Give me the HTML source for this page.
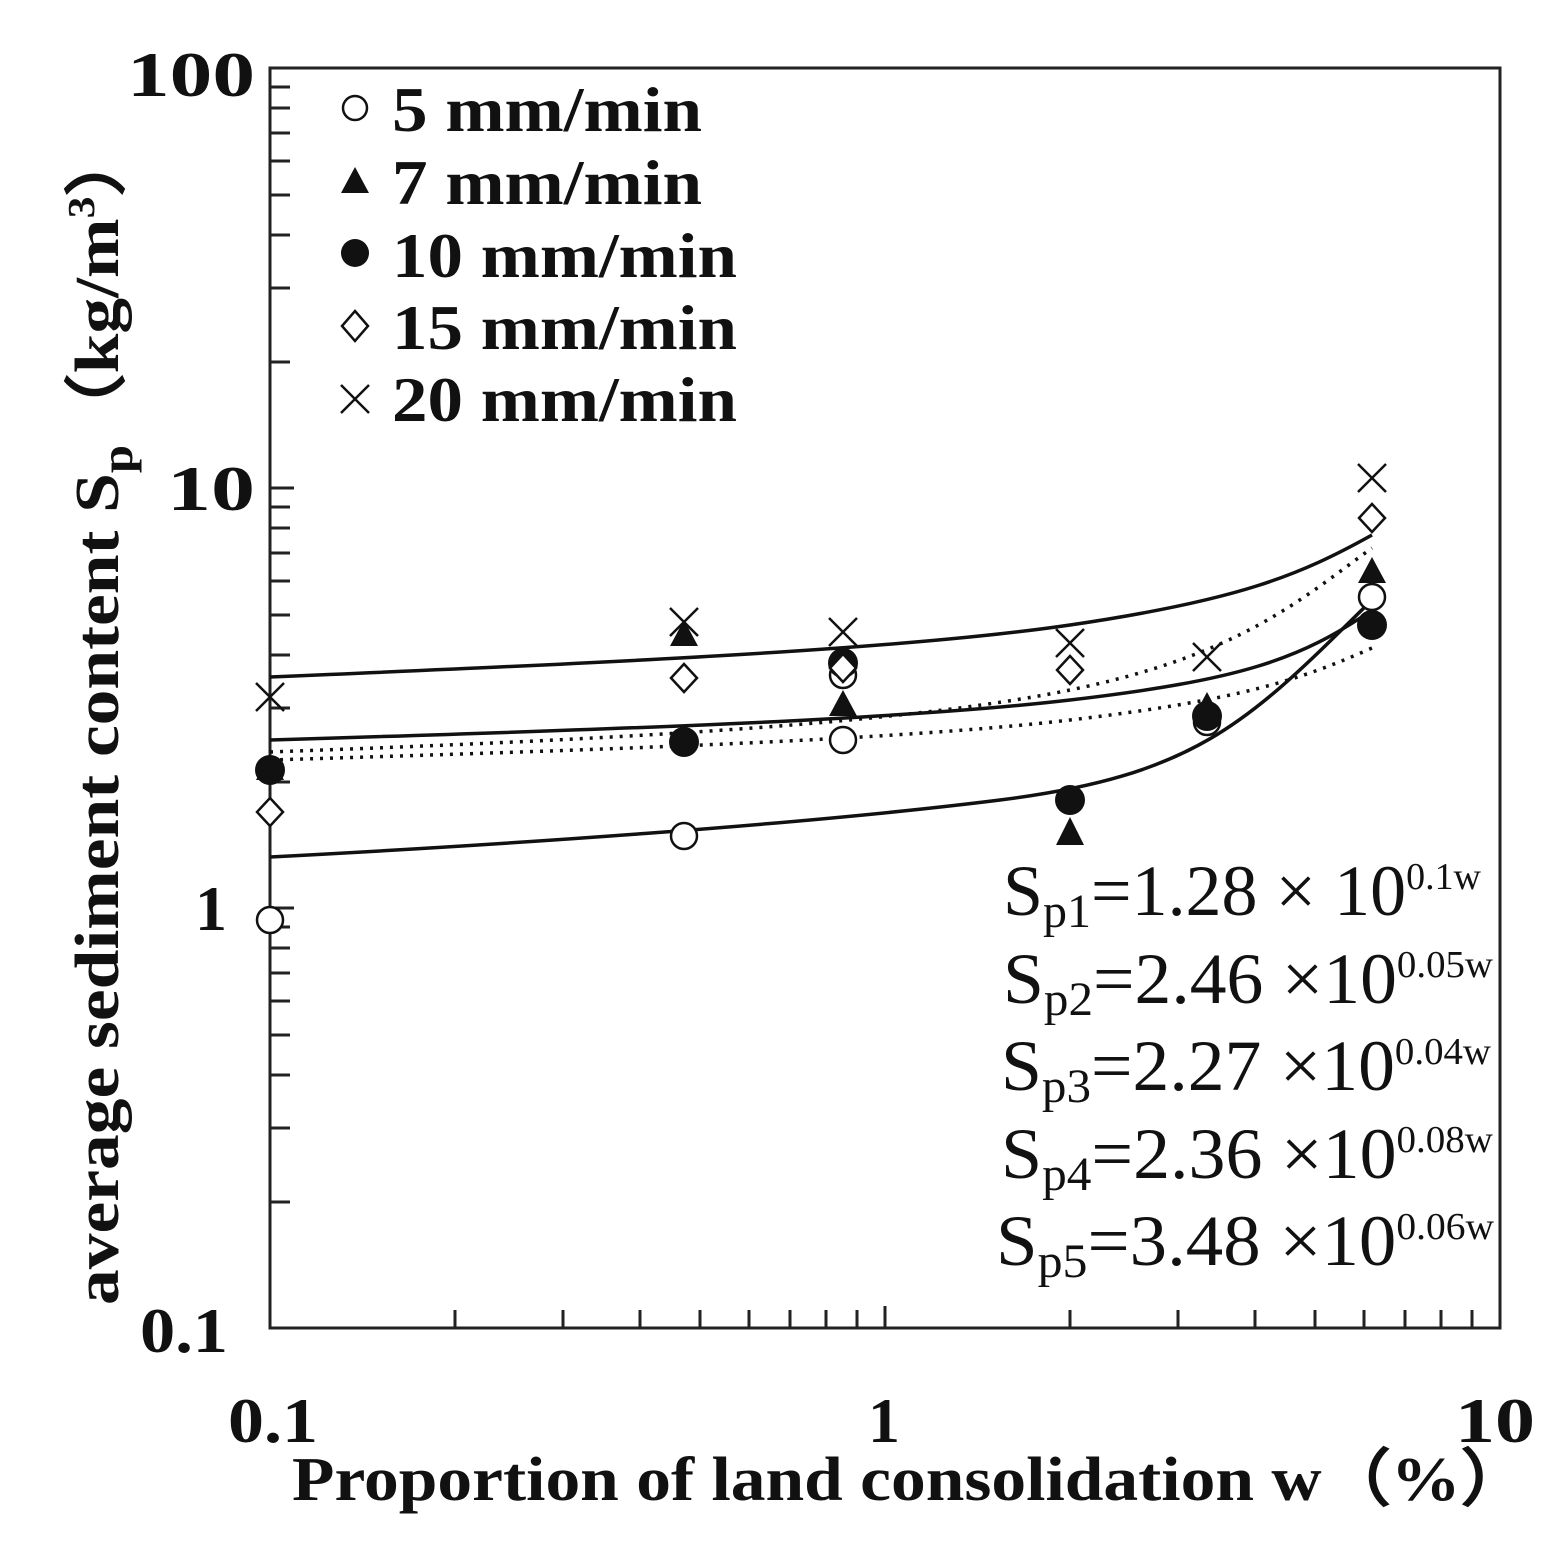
<!DOCTYPE html>
<html><head><meta charset="utf-8"><style>html,body{margin:0;padding:0;background:#fff}</style></head><body>
<svg width="1563" height="1542" viewBox="0 0 1563 1542" xmlns="http://www.w3.org/2000/svg" font-family="'Liberation Serif', serif" font-weight="bold">
<rect width="1563" height="1542" fill="#fff"/>
<rect x="270" y="68" width="1230" height="1260" fill="none" stroke="#222" stroke-width="3"/>
<g stroke="#222" stroke-width="3">
<path d="M455 1328v-18M563 1328v-18M640 1328v-18M700 1328v-18M749 1328v-18M790 1328v-18M826 1328v-18M857 1328v-18M885 1328v-22
M1070 1328v-18M1178 1328v-18M1255 1328v-18M1315 1328v-18M1364 1328v-18M1405 1328v-18M1441 1328v-18M1472 1328v-18"/>
<path d="M270 1202h20M270 1128h20M270 1075h20M270 1035h20M270 1001h20M270 973h20M270 948h20M270 927h20M270 908h24
M270 782h20M270 708h20M270 655h20M270 615h20M270 581h20M270 553h20M270 528h20M270 507h20M270 488h24
M270 362h20M270 288h20M270 235h20M270 195h20M270 161h20M270 133h20M270 108h20M270 87h20"/>
</g>
<g font-size="64" fill="#111">
<text x="127" y="96" textLength="128" lengthAdjust="spacingAndGlyphs">100</text>
<text x="167" y="510" textLength="88" lengthAdjust="spacingAndGlyphs">10</text>
<text x="195" y="930">1</text>
<text x="140" y="1352" textLength="88" lengthAdjust="spacingAndGlyphs">0.1</text>
<text x="228" y="1442" textLength="90" lengthAdjust="spacingAndGlyphs">0.1</text>
<text x="868" y="1442">1</text>
<text x="1455" y="1442" textLength="80" lengthAdjust="spacingAndGlyphs">10</text>
</g>
<text x="292" y="1500" font-size="62" fill="#111" textLength="1238" lengthAdjust="spacingAndGlyphs">Proportion of land consolidation  w（%）</text>
<text transform="translate(118,1305) rotate(-90)" font-size="62" fill="#111" textLength="1180" lengthAdjust="spacingAndGlyphs">average sediment content S<tspan font-size="44" dy="14">p</tspan><tspan dy="-14">（kg/m<tspan font-size="38" dy="-24">3</tspan><tspan dy="24">）</tspan></tspan></text>
<g font-size="64" fill="#111">
<text x="392" y="131" textLength="310" lengthAdjust="spacingAndGlyphs">5 mm/min</text>
<text x="392" y="204" textLength="310" lengthAdjust="spacingAndGlyphs">7 mm/min</text>
<text x="392" y="277" textLength="345" lengthAdjust="spacingAndGlyphs">10 mm/min</text>
<text x="392" y="349" textLength="345" lengthAdjust="spacingAndGlyphs">15 mm/min</text>
<text x="392" y="421" textLength="345" lengthAdjust="spacingAndGlyphs">20 mm/min</text>
</g>
<circle cx="355" cy="108" r="12" fill="none" stroke="#111" stroke-width="2.5"/>
<path d="M341 193 L355 167 L369 193Z" fill="#111"/>
<circle cx="355" cy="253" r="14" fill="#111"/>
<path d="M355 311 L368 326 L355 341 L342 326Z" fill="none" stroke="#111" stroke-width="2.5"/>
<path d="M341 385 L369 413 M369 385 L341 413" stroke="#111" stroke-width="2.5"/>
<g fill="none" stroke="#111" stroke-width="3.5">
<path d="M270 857 C500 845 800 825 1000 800 S1250 720 1372 600"/>
<path d="M270 740 C600 730 900 720 1070 700 S1300 660 1372 610"/>
<path d="M270 677 C600 663 900 650 1070 625 S1300 575 1372 535"/>
</g>
<g fill="none" stroke="#111" stroke-width="3.5" stroke-dasharray="3 7">
<path d="M270 752 C600 740 900 725 1070 690 S1300 600 1372 548"/>
<path d="M270 760 C600 750 900 740 1070 720 S1300 680 1372 648"/>
</g>
<g fill="#fff" stroke="#111" stroke-width="2.5">
<circle cx="270" cy="920" r="13"/><circle cx="684" cy="836" r="13"/><circle cx="843" cy="740" r="13"/><circle cx="843" cy="675" r="13"/><circle cx="1207" cy="722" r="13"/><circle cx="1372" cy="597" r="13"/>
</g>
<g fill="#111">
<path d="M256 780l14-26 14 26Z M670 646l14-26 14 26Z M829 716l14-26 14 26Z M1056 845l14-28 14 28Z M1193 718l14-26 14 26Z M1358 583l14-26 14 26Z"/>
<circle cx="270" cy="770" r="15"/><circle cx="684" cy="742" r="15"/><circle cx="843" cy="663" r="15"/><circle cx="1070" cy="800" r="15"/><circle cx="1207" cy="716" r="15"/><circle cx="1372" cy="625" r="15"/>
</g>
<g fill="#fff" stroke="#111" stroke-width="2.5">
<path d="M270 798l13 14-13 14-13-14Z M684 664l13 14-13 14-13-14Z M843 654l13 14-13 14-13-14Z M1070 656l13 14-13 14-13-14Z M1372 504l13 14-13 14-13-14Z"/>
</g>
<g stroke="#111" stroke-width="2.5">
<path d="M256 683l28 28M284 683l-28 28 M670 608l28 28M698 608l-28 28 M829 618l28 28M857 618l-28 28 M1056 629l28 28M1084 629l-28 28 M1193 643l28 28M1221 643l-28 28 M1358 464l28 28M1386 464l-28 28"/>
</g>
<g font-weight="normal" font-size="72" fill="#111">
<text x="1003" y="915" textLength="478" lengthAdjust="spacingAndGlyphs">S<tspan font-size="48" dy="12">p1</tspan><tspan dy="-12">=1.28 × 10</tspan><tspan font-size="38" dy="-26">0.1w</tspan></text>
<text x="1003" y="1003" textLength="490" lengthAdjust="spacingAndGlyphs">S<tspan font-size="48" dy="12">p2</tspan><tspan dy="-12">=2.46 ×10</tspan><tspan font-size="38" dy="-26">0.05w</tspan></text>
<text x="1001" y="1090" textLength="490" lengthAdjust="spacingAndGlyphs">S<tspan font-size="48" dy="12">p3</tspan><tspan dy="-12">=2.27 ×10</tspan><tspan font-size="38" dy="-26">0.04w</tspan></text>
<text x="1001" y="1178" textLength="492" lengthAdjust="spacingAndGlyphs">S<tspan font-size="48" dy="12">p4</tspan><tspan dy="-12">=2.36 ×10</tspan><tspan font-size="38" dy="-26">0.08w</tspan></text>
<text x="996" y="1265" textLength="498" lengthAdjust="spacingAndGlyphs">S<tspan font-size="48" dy="12">p5</tspan><tspan dy="-12">=3.48 ×10</tspan><tspan font-size="38" dy="-26">0.06w</tspan></text>
</g>
</svg>
</body></html>
